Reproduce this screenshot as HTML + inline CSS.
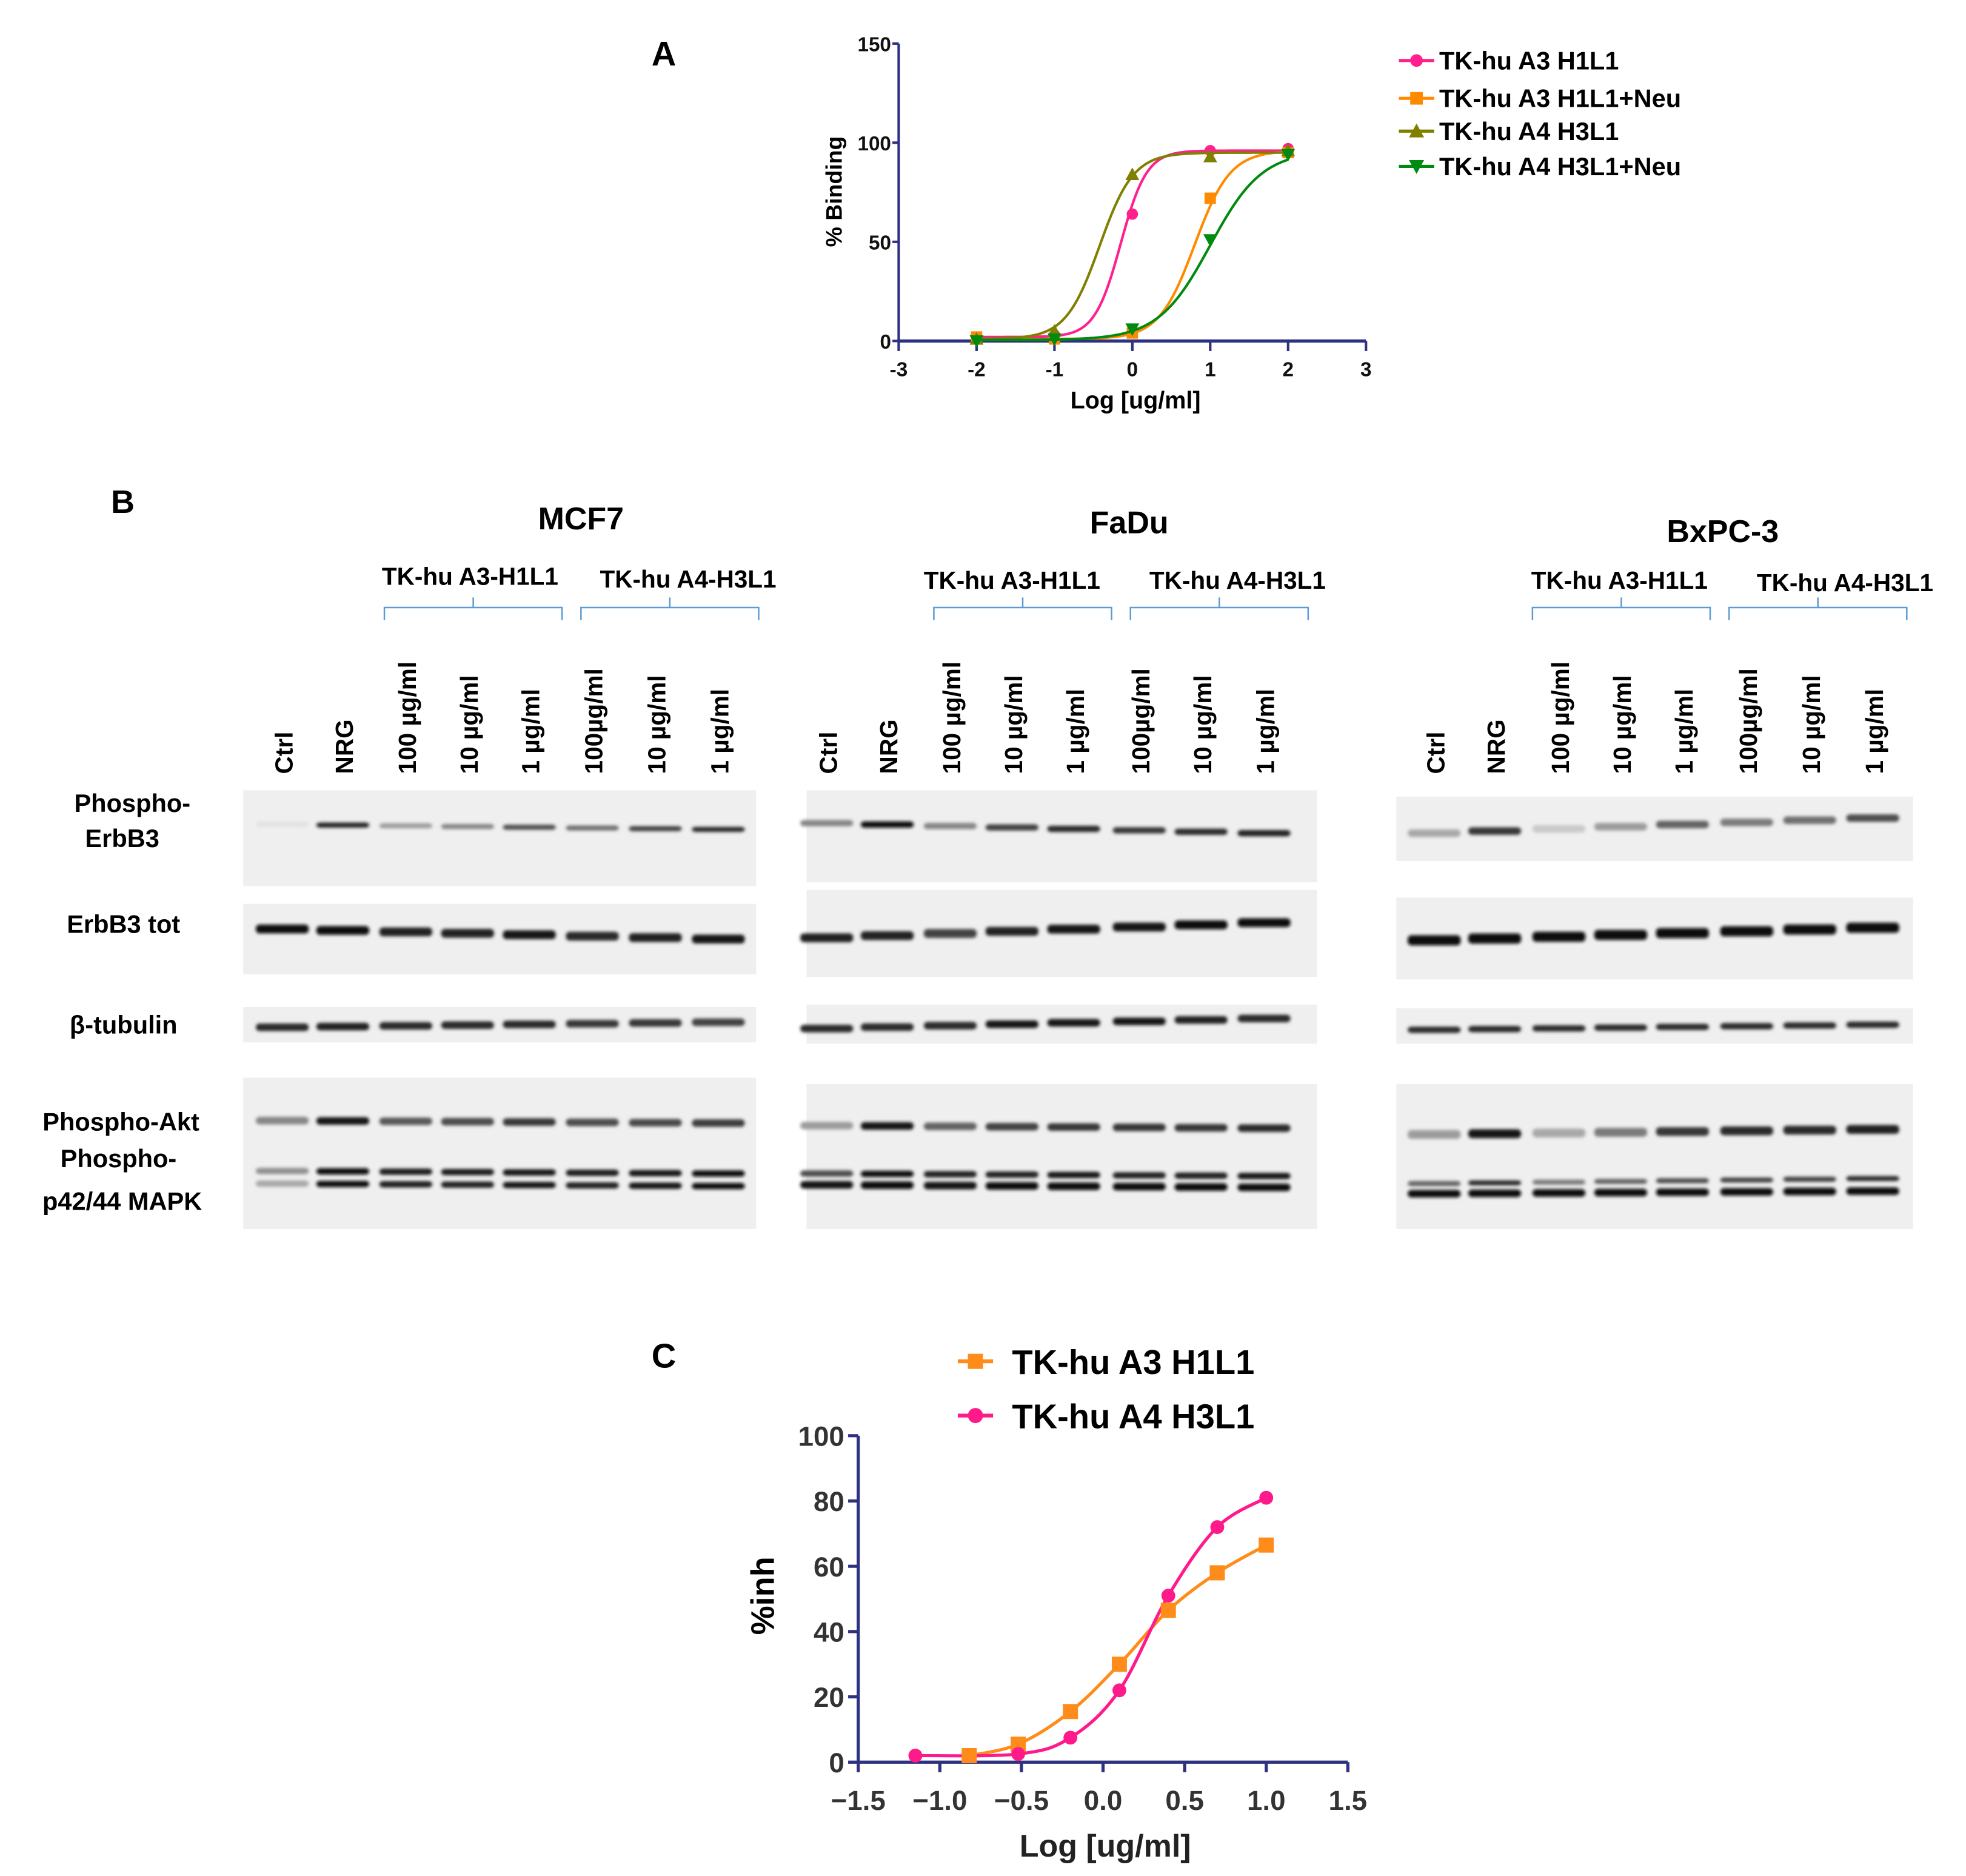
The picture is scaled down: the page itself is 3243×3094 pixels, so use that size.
<!DOCTYPE html>
<html><head><meta charset="utf-8">
<style>
html,body{margin:0;padding:0;background:#fff;}
svg{display:block;}
text{font-family:"Liberation Sans",sans-serif;font-weight:bold;}
</style></head>
<body>
<svg id="fig" width="3243" height="3094" viewBox="0 0 1560 1488.3" xmlns="http://www.w3.org/2000/svg">
<defs>
<filter id="blur" x="-20%" y="-100%" width="140%" height="300%"><feGaussianBlur stdDeviation="1.3"/></filter>
</defs>
<text x="517" y="52" font-size="27">A</text>
<g id="chartA"></g>
<text transform="translate(668,152) rotate(-90)" text-anchor="middle" font-size="18">% Binding</text>
<text x="901" y="324" text-anchor="middle" font-size="19">Log [ug/ml]</text>
<g id="legendA" font-size="20">
<text x="1142" y="55">TK-hu A3 H1L1</text>
<text x="1142" y="85">TK-hu A3 H1L1+Neu</text>
<text x="1142" y="111">TK-hu A4 H3L1</text>
<text x="1142" y="139">TK-hu A4 H3L1+Neu</text>
</g>

<text x="88" y="407" font-size="26">B</text>
<g font-size="25" text-anchor="middle">
<text x="461" y="420">MCF7</text>
<text x="896" y="423">FaDu</text>
<text x="1367" y="430">BxPC-3</text>
</g>
<g font-size="19.5" text-anchor="middle">
<text x="373" y="464">TK-hu A3-H1L1</text>
<text x="546" y="466">TK-hu A4-H3L1</text>
<text x="803" y="467">TK-hu A3-H1L1</text>
<text x="982" y="467">TK-hu A4-H3L1</text>
<text x="1285" y="467">TK-hu A3-H1L1</text>
<text x="1464" y="469">TK-hu A4-H3L1</text>
</g>
<g font-size="20" text-anchor="middle">
<text x="105" y="644">Phospho-</text>
<text x="97" y="672">ErbB3</text>
<text x="98" y="740">ErbB3 tot</text>
<text x="98" y="820">β-tubulin</text>
<text x="96" y="897">Phospho-Akt</text>
<text x="94" y="926">Phospho-</text>
<text x="97" y="960">p42/44 MAPK</text>
</g>
<g id="blots"></g>

<text x="517" y="1085" font-size="27">C</text>
<g id="chartC"></g>
<text transform="translate(614,1266) rotate(-90)" text-anchor="middle" font-size="26">%inh</text>
<text x="877" y="1473" text-anchor="middle" font-size="25" fill="#222">Log [ug/ml]</text>
<g font-size="27">
<text x="803" y="1090">TK-hu A3 H1L1</text>
<text x="803" y="1133">TK-hu A4 H3L1</text>
</g>
</svg>
<script>
const NS='http://www.w3.org/2000/svg';
function mk(parent,tag,attrs){const e=document.createElementNS(NS,tag);for(const k in attrs)e.setAttribute(k,attrs[k]);parent.appendChild(e);return e;}

/* ---------- Chart A data ---------- */
const aX=[-2,-1,0,1,2];
const aSeriesNames=['a3-h1l1','a3-h1l1-neu','a4-h3l1','a4-h3l1-neu'];
const aA3=[2,3,64,96,97];
const aA3Neu=[2,1,4,72,95];
const aA4=[1,5,84,93,96];
const aA4Neu=[0,1,6,51,94];
const aFitBottom=[2,1,1,0.5];
const aFitTop=[96,96,95,96];
const aFitLogEC50=[-0.15,0.8,-0.42,1.0];
const aFitHill=[2.6,1.9,2.0,1.3];
const aXTicks=[-3,-2,-1,0,1,2,3];
const aYTicks=[0,50,100,150];
const aColors=['#ff1f8e','#ff8a00','#808000','#008a10'];
const aMarkers=['circle','square','tri-up','tri-down'];

/* ---------- Chart C data ---------- */
const cXA3=[-0.82,-0.52,-0.2,0.1,0.4,0.7,1.0];
const cYA3=[2,5.5,15.5,30,46.5,58,66.5];
const cXA4=[-1.15,-0.52,-0.2,0.1,0.4,0.7,1.0];
const cYA4=[2,2.5,7.5,22,51,72,81];
const cXTicks=[-1.5,-1.0,-0.5,0.0,0.5,1.0,1.5];
const cYTicks=[0,20,40,60,80,100];

/* ---------- Blot data ---------- */
const blotPanels=['mcf7','fadu','bxpc3'];
const laneMCF7=[224,272,322,371,420,470,520,570];
const laneFaDu=[656,704,754,803,852,904,953,1003];
const laneBxPC=[1138,1186,1237,1286,1335,1386,1436,1486];
const laneLabels=['Ctrl','NRG','100 µg/ml','10 µg/ml','1 µg/ml','100µg/ml','10 µg/ml','1 µg/ml'];
const mcf7pErbB3=[0.04,0.9,0.35,0.45,0.7,0.55,0.75,0.85];
const mcf7Tot=[1,1,0.9,0.9,0.95,0.85,0.9,0.95];
const mcf7Tub=[0.85,0.9,0.85,0.85,0.85,0.8,0.8,0.75];
const mcf7Akt=[0.45,0.95,0.65,0.7,0.8,0.7,0.72,0.78];
const mcf7Mapk1=[0.4,1,0.92,0.92,0.96,0.92,0.96,1];
const mcf7Mapk2=[0.3,1,0.9,0.9,0.95,0.9,0.95,1];
const fadupErbB3=[0.45,1,0.45,0.75,0.85,0.8,0.85,0.9];
const faduTot=[0.9,0.9,0.75,0.9,0.95,0.95,1,1];
const faduTub=[0.85,0.85,0.85,0.95,0.95,0.95,0.9,0.85];
const faduAkt=[0.35,0.95,0.6,0.75,0.8,0.8,0.8,0.85];
const faduMapk1=[0.7,1,0.9,0.9,0.95,0.9,0.9,0.95];
const faduMapk2=[0.95,1,0.95,1,1,1,1,1];
const bxpcpErbB3=[0.3,0.8,0.15,0.35,0.6,0.5,0.55,0.7];
const bxpcTot=[1,1,1,1,1,1,1,1];
const bxpcTub=[0.85,0.85,0.85,0.85,0.85,0.85,0.85,0.85];
const bxpcAkt=[0.35,0.95,0.3,0.5,0.8,0.85,0.85,0.9];
const bxpcMapk1=[0.6,0.85,0.5,0.6,0.7,0.75,0.75,0.85];
const bxpcMapk2=[1,1,1,1,1,1,1,1];

/* ---------- Draw chart A ---------- */
(function(){
const g=document.getElementById('chartA');
const X=v=>898.5+61.8*v, Y=v=>270.5-1.573*v;
const axc='#2e3180';
const ya=mk(g,'line',{x1:X(-3),y1:Y(0),x2:X(-3),y2:Y(150),stroke:axc,'stroke-width':2});


const xa=mk(g,'line',{x1:X(-3),y1:Y(0),x2:X(3),y2:Y(0),stroke:axc,'stroke-width':2.5});


aYTicks.forEach(t=>{
 const l=mk(g,'line',{x1:X(-3)-5,y1:Y(t),x2:X(-3),y2:Y(t),stroke:axc,'stroke-width':2});
 
 
 const tx=mk(g,'text',{x:X(-3)-6,y:Y(t)+6,'text-anchor':'end','font-size':16,'font-weight':'normal',fill:'#111'});
 tx.textContent=String(t);
 
 
});
aXTicks.forEach(t=>{
 const l=mk(g,'line',{x1:X(t),y1:Y(0),x2:X(t),y2:Y(0)+8,stroke:axc,'stroke-width':2});
 
 
 const tx=mk(g,'text',{x:X(t),y:Y(0)+28,'text-anchor':'middle','font-size':16,'font-weight':'normal',fill:'#111'});
 tx.textContent=String(t);
 
 
});
const series=[aA3,aA3Neu,aA4,aA4Neu];
function marker(par,kind,cx,cy,col,r){
 let e;
 if(kind==='circle')e=mk(par,'circle',{cx:cx,cy:cy,r:r,fill:col});
 else if(kind==='square')e=mk(par,'rect',{x:cx-r,y:cy-r,width:2*r,height:2*r,fill:col});
 else if(kind==='tri-up')e=mk(par,'polygon',{points:`${cx},${cy-r-1} ${cx-r-1},${cy+r} ${cx+r+1},${cy+r}`,fill:col});
 else e=mk(par,'polygon',{points:`${cx},${cy+r+1} ${cx-r-1},${cy-r} ${cx+r+1},${cy-r}`,fill:col});
 return e;
}
series.forEach((s,i)=>{
 let d='';
 for(let k=0;k<=200;k++){const v=-2+4*k/200;
  const y=aFitBottom[i]+(aFitTop[i]-aFitBottom[i])/(1+Math.pow(10,(aFitLogEC50[i]-v)*aFitHill[i]));
  d+=(k?'L':'M')+X(v).toFixed(2)+','+Y(y).toFixed(2);}
 const p=mk(g,'path',{d:d,fill:'none',stroke:aColors[i],'stroke-width':2});
 
 
 s.forEach((v,j)=>{
  const m=marker(g,aMarkers[i],X(aX[j]),Y(v),aColors[i],4.5);
  
  
 });
 const ly=[48,78,104,132][i];
 const ll=mk(g,'line',{x1:1110,y1:ly,x2:1138,y2:ly,stroke:aColors[i],'stroke-width':2.5});
 
 
 const lm=marker(g,aMarkers[i],1124,ly,aColors[i],5);
 
 
});
})();

/* ---------- Draw chart C ---------- */
(function(){
const g=document.getElementById('chartC');
const X=v=>681+129.5*(v+1.5), Y=v=>1398-2.59*v;
const axc='#2e3180';
const ya=mk(g,'line',{x1:X(-1.5),y1:Y(0),x2:X(-1.5),y2:Y(100),stroke:axc,'stroke-width':2.5});


const xa=mk(g,'line',{x1:X(-1.5),y1:Y(0),x2:X(1.5),y2:Y(0),stroke:axc,'stroke-width':2.5});


cYTicks.forEach(t=>{
 const l=mk(g,'line',{x1:X(-1.5)-8,y1:Y(t),x2:X(-1.5),y2:Y(t),stroke:axc,'stroke-width':2.5});
 
 
 const tx=mk(g,'text',{x:X(-1.5)-11,y:Y(t)+8,'text-anchor':'end','font-size':22,fill:'#333'});
 tx.textContent=String(t);
 
 
});
cXTicks.forEach(t=>{
 const l=mk(g,'line',{x1:X(t),y1:Y(0),x2:X(t),y2:Y(0)+8,stroke:axc,'stroke-width':2.5});
 
 
 const tx=mk(g,'text',{x:X(t),y:Y(0)+38,'text-anchor':'middle','font-size':22,fill:'#333'});
 tx.textContent=(t<0?'\u2212':'')+Math.abs(t).toFixed(1);
 
 
});
function spline(xs,ys){
 const P=xs.map((x,i)=>[X(x),Y(ys[i])]);
 let d='M'+P[0][0]+','+P[0][1];
 for(let i=0;i<P.length-1;i++){
  const p0=P[Math.max(0,i-1)],p1=P[i],p2=P[i+1],p3=P[Math.min(P.length-1,i+2)];
  const c1=[p1[0]+(p2[0]-p0[0])/6,p1[1]+(p2[1]-p0[1])/6];
  const c2=[p2[0]-(p3[0]-p1[0])/6,p2[1]-(p3[1]-p1[1])/6];
  d+=`C${c1[0]},${c1[1]} ${c2[0]},${c2[1]} ${p2[0]},${p2[1]}`;
 }
 return d;
}
const orange='#ff8c1a', pink='#ff1a8c';
const p1=mk(g,'path',{d:spline(cXA3,cYA3),fill:'none',stroke:orange,'stroke-width':2.5});


const p2=mk(g,'path',{d:spline(cXA4,cYA4),fill:'none',stroke:pink,'stroke-width':2.5});


cXA3.forEach((x,i)=>{
 const r=mk(g,'rect',{x:X(x)-6,y:Y(cYA3[i])-6,width:12,height:12,fill:orange});
 
 
});
cXA4.forEach((x,i)=>{
 const c=mk(g,'circle',{cx:X(x),cy:Y(cYA4[i]),r:5.5,fill:pink});
 
 
});
const l1=mk(g,'line',{x1:760,y1:1080,x2:788,y2:1080,stroke:orange,'stroke-width':3});


const m1=mk(g,'rect',{x:768,y:1074,width:12,height:12,fill:orange});


const l2=mk(g,'line',{x1:760,y1:1123,x2:788,y2:1123,stroke:pink,'stroke-width':3});


const m2=mk(g,'circle',{cx:774,cy:1123,r:6,fill:pink});


})();

/* ---------- Draw blots ---------- */
(function(){
const g=document.getElementById('blots');
const panels=[
 {name:'mcf7',lanes:laneMCF7,x0:193,x1:600,brk:[[305,446],[461,602]],
  strips:[[627,703,[[mcf7pErbB3,656,4,2]]],[717,773,[[mcf7Tot,741,7,4]]],[799,827,[[mcf7Tub,813,6,-2]]],[855,975,[[mcf7Akt,890,6,1],[mcf7Mapk1,930,5,1],[mcf7Mapk2,940,5,1]]]]},
 {name:'fadu',lanes:laneFaDu,x0:640,x1:1045,brk:[[741,882],[897,1038]],
  strips:[[627,700,[[fadupErbB3,657,5,4]]],[706,775,[[faduTot,738,7,-6]]],[797,828,[[faduTub,812,6,-4]]],[860,975,[[faduAkt,894,6,1],[faduMapk1,932,5,1],[faduMapk2,941,6,1]]]]},
 {name:'bxpc3',lanes:laneBxPC,x0:1108,x1:1518,brk:[[1216,1357],[1372,1513]],
  strips:[[632,683,[[bxpcpErbB3,655,6,-6]]],[712,777,[[bxpcTot,741,8,-5]]],[800,828,[[bxpcTub,815,5,-2]]],[860,975,[[bxpcAkt,898,7,-2],[bxpcMapk1,937,4,-2],[bxpcMapk2,946,6,-1]]]]}
];
panels.forEach(P=>{
 P.brk.forEach((b,bi)=>{
  const m=(b[0]+b[1])/2;
  const br=mk(g,'path',{d:`M${b[0]},${492} L${b[0]},${482} L${m},${482} L${m},${474} M${m},${482} L${b[1]},${482} L${b[1]},${492}`,fill:'none',stroke:'#5b9bd5','stroke-width':1.2});
  
  
 });
 P.lanes.forEach((lx,i)=>{
  const t=mk(g,'text',{transform:`translate(${lx+8},${614}) rotate(-90)`,'font-size':19.5});
  t.textContent=laneLabels[i];
  
  
 });
 P.strips.forEach((S,si)=>{
  const bg=mk(g,'rect',{x:P.x0,y:S[0],width:P.x1-P.x0,height:S[1]-S[0],fill:'#efefef'});
  
  
  S[2].forEach(B=>{
   const vals=B[0],by=B[1],th=B[2],slope=B[3];
   vals.forEach((v,i)=>{
    const lx=P.lanes[i];
    const yy=by+slope*(i-3.5)/3.5;
    const shade=Math.round(235-225*v);
    const r=mk(g,'rect',{x:lx-21,y:yy-th/2,width:42,height:th,rx:3,fill:`rgb(${shade},${shade},${shade})`,filter:'url(#blur)'});
    
    
   });
  });
 });
});
})();
</script>
</body></html>
